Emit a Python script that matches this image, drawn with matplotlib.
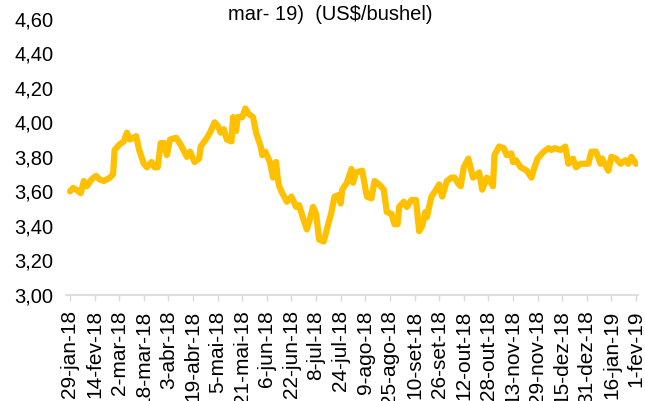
import matplotlib
matplotlib.use("Agg")
import matplotlib.pyplot as plt
import matplotlib.dates as mdates
import numpy as np
import datetime as dt

plt.rcParams['font.family'] = ['Liberation Sans', 'DejaVu Sans']

title_text = "mar- 19)  (US$/bushel)"

dates = [
    "2018-01-29", "2018-01-31", "2018-02-02", "2018-02-05", "2018-02-07", "2018-02-09",
    "2018-02-12", "2018-02-15", "2018-02-17", "2018-02-20", "2018-02-24", "2018-02-26",
    "2018-02-27", "2018-03-02", "2018-03-05", "2018-03-07", "2018-03-09", "2018-03-13",
    "2018-03-15", "2018-03-18", "2018-03-20", "2018-03-23", "2018-03-25", "2018-03-27",
    "2018-03-29", "2018-03-31", "2018-04-02", "2018-04-04", "2018-04-08", "2018-04-11",
    "2018-04-15", "2018-04-17", "2018-04-20", "2018-04-23", "2018-04-24", "2018-04-28",
    "2018-04-30", "2018-05-03", "2018-05-05", "2018-05-07", "2018-05-09", "2018-05-11",
    "2018-05-14", "2018-05-15", "2018-05-17", "2018-05-18", "2018-05-21", "2018-05-23",
    "2018-05-25", "2018-05-28", "2018-05-30", "2018-06-02", "2018-06-03", "2018-06-05",
    "2018-06-08", "2018-06-10", "2018-06-12", "2018-06-13", "2018-06-14", "2018-06-16",
    "2018-06-19", "2018-06-22", "2018-06-25", "2018-06-27", "2018-06-29", "2018-07-02",
    "2018-07-04", "2018-07-06", "2018-07-08", "2018-07-10", "2018-07-13", "2018-07-15",
    "2018-07-18", "2018-07-20", "2018-07-23", "2018-07-24", "2018-07-25", "2018-07-28",
    "2018-07-31", "2018-08-01", "2018-08-03", "2018-08-07", "2018-08-10", "2018-08-13",
    "2018-08-15", "2018-08-18", "2018-08-21", "2018-08-23", "2018-08-26", "2018-08-28",
    "2018-08-30", "2018-08-31", "2018-09-03", "2018-09-05", "2018-09-08", "2018-09-11",
    "2018-09-13", "2018-09-15", "2018-09-17", "2018-09-18", "2018-09-21", "2018-09-24",
    "2018-09-26", "2018-09-28", "2018-10-01", "2018-10-04", "2018-10-06", "2018-10-08",
    "2018-10-10", "2018-10-12", "2018-10-15", "2018-10-18", "2018-10-20", "2018-10-22",
    "2018-10-24", "2018-10-27", "2018-10-29", "2018-10-31", "2018-11-01", "2018-11-04",
    "2018-11-07", "2018-11-09", "2018-11-12", "2018-11-13", "2018-11-15", "2018-11-18",
    "2018-11-22", "2018-11-25", "2018-11-27", "2018-11-29", "2018-12-03", "2018-12-06",
    "2018-12-08", "2018-12-10", "2018-12-14", "2018-12-17", "2018-12-19", "2018-12-22",
    "2018-12-24", "2018-12-27", "2019-01-01", "2019-01-03", "2019-01-06", "2019-01-09",
    "2019-01-10", "2019-01-14", "2019-01-16", "2019-01-19", "2019-01-22", "2019-01-25",
    "2019-01-27", "2019-01-29", "2019-02-01",
]

prices = [
    3.60, 3.62, 3.61, 3.59, 3.66, 3.63,
    3.67, 3.69, 3.67, 3.66, 3.68, 3.70,
    3.84, 3.87, 3.89, 3.94, 3.90, 3.92,
    3.84, 3.76, 3.74, 3.77, 3.74, 3.74,
    3.88, 3.88, 3.81, 3.90, 3.91, 3.87,
    3.80, 3.83, 3.77, 3.79, 3.86, 3.91,
    3.94, 4.00, 3.98, 3.94, 3.96, 3.90,
    3.89, 4.03, 3.95, 4.03, 4.03, 4.08,
    4.05, 4.03, 3.94, 3.86, 3.81, 3.83,
    3.77, 3.68, 3.77, 3.68, 3.63, 3.59,
    3.54, 3.57, 3.51, 3.52, 3.46, 3.38,
    3.44, 3.51, 3.47, 3.32, 3.31, 3.38,
    3.48, 3.57, 3.58, 3.53, 3.61, 3.65,
    3.73, 3.65, 3.71, 3.72, 3.57, 3.56,
    3.66, 3.64, 3.61, 3.48, 3.47, 3.41,
    3.41, 3.51, 3.54, 3.51, 3.55, 3.55,
    3.37, 3.40, 3.48, 3.45, 3.57, 3.61,
    3.64, 3.57, 3.66, 3.68, 3.68, 3.65,
    3.63, 3.74, 3.79, 3.68, 3.69, 3.71,
    3.61, 3.68, 3.66, 3.63, 3.81, 3.86,
    3.85, 3.81, 3.82, 3.77, 3.78, 3.74,
    3.72, 3.68, 3.74, 3.79, 3.83, 3.85,
    3.84, 3.85, 3.84, 3.86, 3.76, 3.79,
    3.74, 3.76, 3.76, 3.83, 3.83, 3.76,
    3.79, 3.72, 3.80, 3.79, 3.76, 3.78,
    3.76, 3.80, 3.76,
]

tick_labels = [
    "29-jan-18", "14-fev-18", "2-mar-18", "18-mar-18", "3-abr-18", "19-abr-18",
    "5-mai-18", "21-mai-18", "6-jun-18", "22-jun-18", "8-jul-18", "24-jul-18",
    "9-ago-18", "25-ago-18", "10-set-18", "26-set-18", "12-out-18", "28-out-18",
    "13-nov-18", "29-nov-18", "15-dez-18", "31-dez-18", "16-jan-19", "1-fev-19",
]
start = dt.datetime(2018, 1, 29)
tick_step_days = 16

y_ticks = [3.00, 3.20, 3.40, 3.60, 3.80, 4.00, 4.20, 4.40, 4.60]

x = [dt.datetime.strptime(d, "%Y-%m-%d") for d in dates]
tick_pos = [start + dt.timedelta(days=tick_step_days * i) for i in range(len(tick_labels))]

fig = plt.figure(figsize=(6.45, 4.01), dpi=100)
ax = fig.add_axes([66 / 645, 1 - 295 / 401, (638 - 66) / 645, (295 - 18.7) / 401])

ax.plot(x, prices, color="#FFC000", linewidth=4.5, solid_joinstyle="round",
        solid_capstyle="round")

ax.set_ylim(3.0, 4.6)
ax.set_yticks(y_ticks)
ax.set_yticklabels([f"{v:.2f}".replace(".", ",") for v in y_ticks], fontsize=14.5)
ax.tick_params(axis="y", length=0, pad=9, colors="#000000")

ax.set_xlim(start - dt.timedelta(days=2.6), tick_pos[-1] + dt.timedelta(days=1.3))
ax.set_xticks(mdates.date2num(tick_pos))
ax.set_xticklabels(tick_labels, rotation=90, fontsize=15, va="top", ha="center")
ax.tick_params(axis="x", length=4, width=1, color="#D9D9D9", pad=7, labelcolor="#000000")

for s in ["top", "right", "left"]:
    ax.spines[s].set_visible(False)
ax.spines["bottom"].set_color("#D9D9D9")
ax.spines["bottom"].set_linewidth(1.2)

fig.text(330 / 645, 1 - 14 / 401, title_text, ha="center", va="center", fontsize=14.5)

fig.savefig("out.png", dpi=100)
